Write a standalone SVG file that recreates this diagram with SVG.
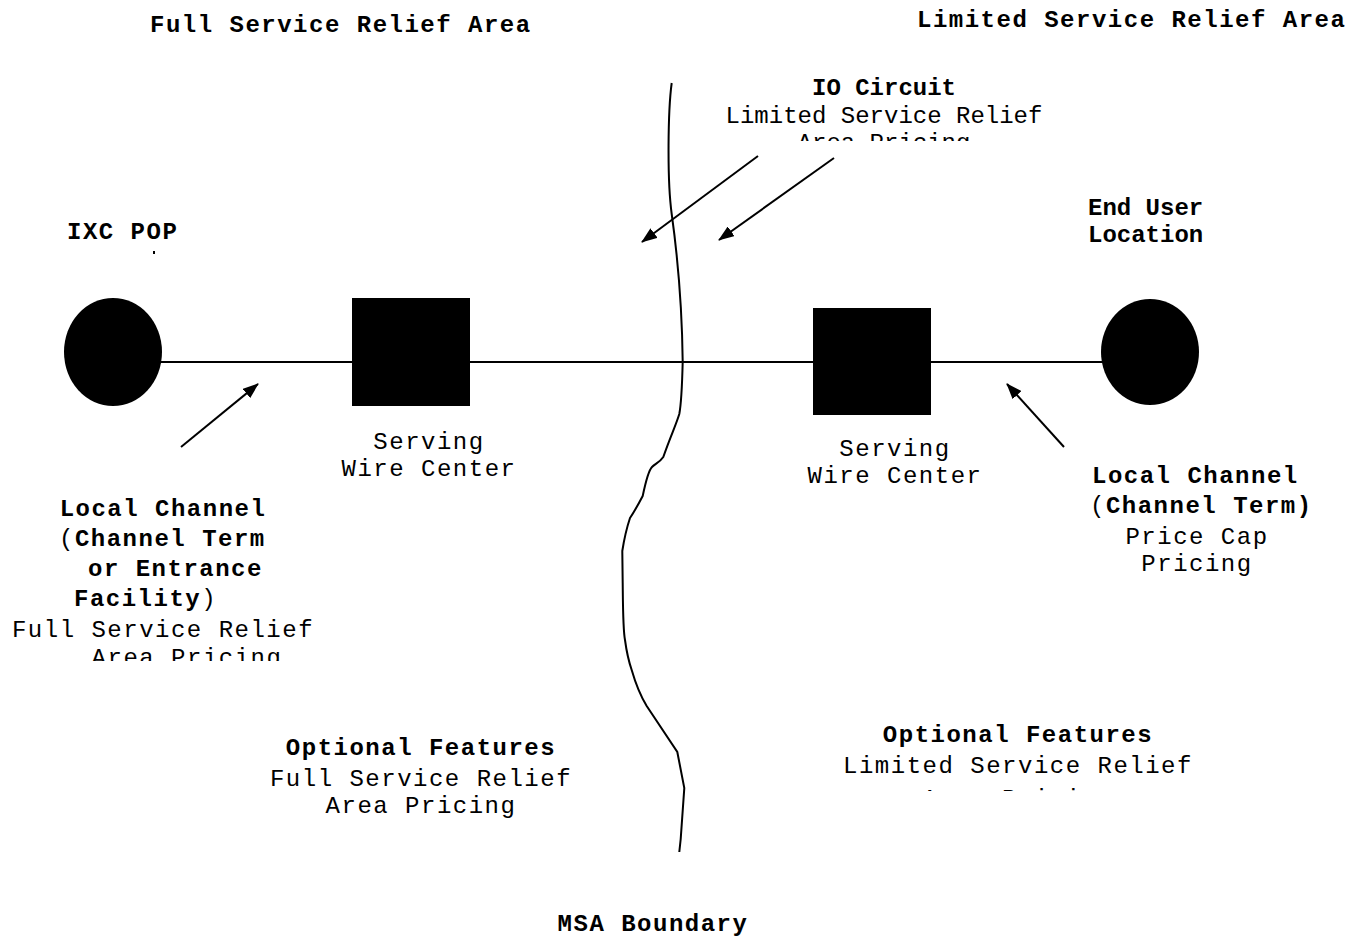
<svg xmlns="http://www.w3.org/2000/svg" width="1367" height="938" viewBox="0 0 1367 938">
<style>
text{font-family:"Liberation Mono","Courier New",monospace;font-size:24px;fill:#000;letter-spacing:1.5px}
.b{font-weight:bold}
.m{text-anchor:middle}
.n{letter-spacing:0}
.ln{stroke:#000;stroke-width:2;fill:none}
</style>
<defs>
<marker id="ah" viewBox="0 0 16 12" refX="15" refY="6" markerWidth="16" markerHeight="12" markerUnits="userSpaceOnUse" orient="auto">
<path d="M0,0 L16,6 L0,12 z" fill="#000"/>
</marker>
<clipPath id="c1"><rect x="700" y="125" width="360" height="16"/></clipPath>
<clipPath id="c2"><rect x="0" y="645" width="340" height="16"/></clipPath>
<clipPath id="c3"><rect x="820" y="780" width="400" height="11"/></clipPath>
</defs>
<rect width="1367" height="938" fill="#fff"/>

<g id="titles">
<text class="b" x="150" y="32">Full Service Relief Area</text>
<text class="b" x="917" y="27">Limited Service Relief Area</text>
</g>

<g id="connectors">
<line class="ln" x1="160" y1="362" x2="1105" y2="362"/>
<path class="ln" d="M671.7,83 C668,110 667,180 671.7,214 C676,245 682,300 682.7,362 C682,390 681,405 679.3,414 C676,425 671,435 663.3,457 C660,462 655,464 652,467 C648,471 645,485 642.7,496 C638,505 634,512 630,518 C626,530 624,540 622.3,551 L622.7,583 C623,610 623,630 625,640 C627,655 630,665 631.7,670 C636,685 640,695 646.7,706 L677.3,752 L684.3,788 L680.7,839 L679.3,852"/>
<line class="ln" x1="181" y1="447" x2="258" y2="384" marker-end="url(#ah)" stroke-width="1.5"/>
<line class="ln" x1="1064" y1="447" x2="1007" y2="384" marker-end="url(#ah)" stroke-width="1.5"/>
<line class="ln" x1="758" y1="156" x2="642" y2="242" marker-end="url(#ah)" stroke-width="1.5"/>
<line class="ln" x1="834" y1="158" x2="719" y2="240" marker-end="url(#ah)" stroke-width="1.5"/>
</g>

<g id="ixc-pop">
<ellipse cx="113" cy="352" rx="49" ry="54" fill="#000"/>
<text class="b" x="67" y="239">IXC POP</text>
<rect x="153" y="251" width="2" height="3" fill="#000"/>
</g>

<g id="end-user">
<ellipse cx="1150" cy="352" rx="49" ry="53" fill="#000"/>
<text class="b n" x="1088" y="215">End User</text>
<text class="b n" x="1088" y="242">Location</text>
</g>

<g id="wire-center-left">
<rect x="352" y="298" width="118" height="108" fill="#000"/>
<text class="m" x="429" y="449">Serving</text>
<text class="m" x="429" y="476">Wire Center</text>
</g>

<g id="wire-center-right">
<rect x="813" y="308" width="118" height="107" fill="#000"/>
<text class="m" x="895" y="456">Serving</text>
<text class="m" x="895" y="483">Wire Center</text>
</g>

<g id="io-circuit">
<text class="b m n" x="884" y="95">IO Circuit</text>
<text class="m n" x="884" y="123">Limited Service Relief</text>
<text class="m n" x="884" y="150" clip-path="url(#c1)">Area Pricing</text>
</g>

<g id="local-channel-left">
<text class="b m" x="163" y="516">Local Channel</text>
<text x="59" y="546">(<tspan class="b">Channel Term</tspan></text>
<text class="b" x="88" y="576">or Entrance</text>
<text x="74" y="606"><tspan class="b">Facility</tspan>)</text>
<text class="m" x="163" y="637">Full Service Relief</text>
<text class="m" x="187" y="665" clip-path="url(#c2)">Area Pricing</text>
</g>

<g id="local-channel-right">
<text class="b" x="1092" y="483">Local Channel</text>
<text x="1090" y="513">(<tspan class="b">Channel Term)</tspan></text>
<text class="m" x="1197" y="544">Price Cap</text>
<text class="m" x="1197" y="571">Pricing</text>
</g>

<g id="optional-left">
<text class="b m" x="421" y="755">Optional Features</text>
<text class="m" x="421" y="786">Full Service Relief</text>
<text class="m" x="421" y="813">Area Pricing</text>
</g>

<g id="optional-right">
<text class="b m" x="1018" y="742">Optional Features</text>
<text class="m" x="1018" y="773">Limited Service Relief</text>
<text class="m" x="1018" y="806" clip-path="url(#c3)">Area Pricing</text>
</g>

<g id="msa">
<text class="b m" x="653" y="931">MSA Boundary</text>
</g>
</svg>
